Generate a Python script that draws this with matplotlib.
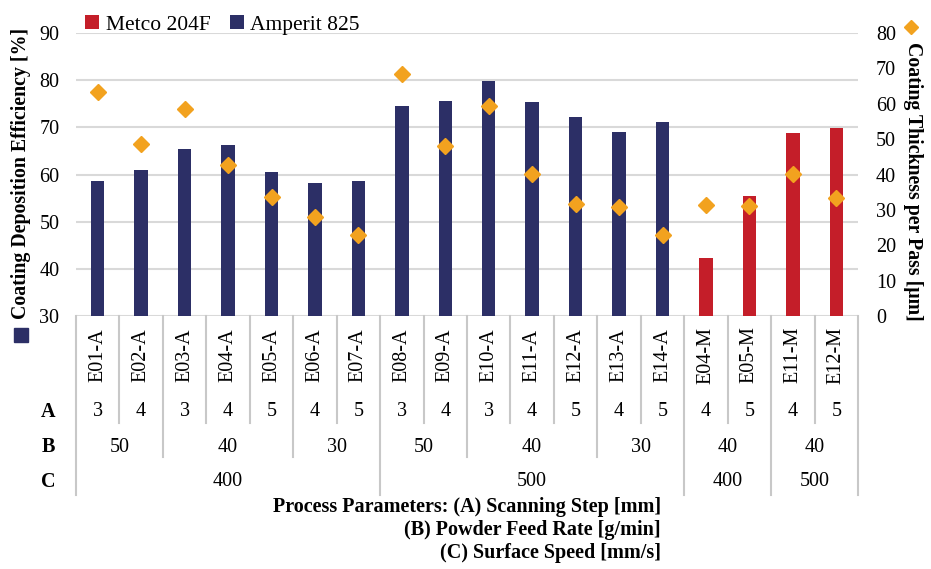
import numpy as np
import matplotlib.pyplot as plt
from matplotlib.lines import Line2D

plt.rcParams['font.family'] = ['Liberation Serif', 'DejaVu Serif']

# Data
samples = ['E01-A', 'E02-A', 'E03-A', 'E04-A', 'E05-A', 'E06-A', 'E07-A',
           'E08-A', 'E09-A', 'E10-A', 'E11-A', 'E12-A', 'E13-A', 'E14-A',
           'E04-M', 'E05-M', 'E11-M', 'E12-M']
powder = ['Amperit 825'] * 14 + ['Metco 204F'] * 4
efficiency = [58.6, 60.9, 65.5, 66.2, 60.5, 58.1, 58.6, 74.6, 75.5,
              79.8, 75.4, 72.2, 69.1, 71.1, 42.4, 55.4, 68.7, 69.8]
thickness = [63.2, 48.7, 58.5, 42.8, 33.5, 27.9, 22.9, 68.3, 48.0,
             59.5, 40.2, 31.7, 30.9, 22.9, 31.3, 31.2, 40.2, 33.3]
step_a = [3, 4, 3, 4, 5, 4, 5, 3, 4, 3, 4, 5, 4, 5, 4, 5, 4, 5]
feed_b = [50, 50, 40, 40, 40, 30, 30, 50, 50, 40, 40, 40, 30, 30, 40, 40, 40, 40]
speed_c = [400] * 7 + [500] * 7 + [400, 400, 500, 500]

navy = '#2c2f66'
red = '#c41e29'
orange = '#f2a21f'
grid_col = '#d9d9d9'
line_col = '#c8c8c8'

W, H = 931, 569
fig = plt.figure(figsize=(W / 100, H / 100), dpi=100)
ax = fig.add_axes([76 / W, 1 - 316 / H, 782 / W, 283 / H])

x = np.arange(len(samples))
eff = np.array(efficiency)
is_a = np.array([p == 'Amperit 825' for p in powder])

bar_a = ax.bar(x[is_a], eff[is_a] - 30, bottom=30, width=0.31, color=navy, label='Amperit 825')
bar_m = ax.bar(x[~is_a], eff[~is_a] - 30, bottom=30, width=0.31, color=red, label='Metco 204F')

ax.set_xlim(-0.5, len(samples) - 0.5)
ax.set_ylim(30, 90)
ax.set_yticks(np.arange(30, 91, 10))
ax.grid(axis='y', color=grid_col, lw=1.5)
ax.set_axisbelow(True)
ax.tick_params(axis='y', length=0, pad=12, labelsize=14.5)
ax.tick_params(axis='x', bottom=False, labelbottom=False)
for s in ax.spines.values():
    s.set_visible(False)

ax2 = ax.twinx()
ax2.plot(x, thickness, ls='none', marker='D', ms=8.5, color=orange)
ax2.set_ylim(0, 80)
ax2.set_yticks(np.arange(0, 81, 10))
ax2.tick_params(axis='y', length=0, pad=13, labelsize=14.5)
for s in ax2.spines.values():
    s.set_visible(False)

# table under the chart
def ay(py):
    return (316 - py) / 283

tr = ax.get_xaxis_transform()

c_run = []
b_run = []
for i in range(len(samples)):
    if i == 0:
        c_run.append(0)
        b_run.append(0)
        continue
    new_c = (powder[i], speed_c[i]) != (powder[i - 1], speed_c[i - 1])
    c_run.append(c_run[-1] + int(new_c))
    new_b = new_c or feed_b[i] != feed_b[i - 1]
    b_run.append(b_run[-1] + int(new_b))

bounds = [-0.5] + [i + 0.5 for i in range(len(samples) - 1)] + [len(samples) - 0.5]
for k, xb in enumerate(bounds):
    if k == 0 or k == len(bounds) - 1 or c_run[k] != c_run[k - 1]:
        bottom = 495
    elif b_run[k] != b_run[k - 1]:
        bottom = 457
    else:
        bottom = 423
    ax.plot([xb, xb], [ay(316), ay(bottom)], color=line_col, lw=1.5,
            transform=tr, clip_on=False)

for i, name in enumerate(samples):
    ax.text(i, ay(355), name, rotation=90, ha='center', va='center',
            fontsize=14.5, transform=tr)
    ax.text(i, ay(412), str(step_a[i]), ha='center', va='center',
            fontsize=14.5, transform=tr)

for run in sorted(set(b_run)):
    idx = [i for i in range(len(samples)) if b_run[i] == run]
    ax.text(np.mean(idx), ay(447), str(feed_b[idx[0]]), ha='center',
            va='center', fontsize=14.5, transform=tr)
for run in sorted(set(c_run)):
    idx = [i for i in range(len(samples)) if c_run[i] == run]
    ax.text(np.mean(idx), ay(482), str(speed_c[idx[0]]), ha='center',
            va='center', fontsize=14.5, transform=tr)

for lab, py in zip(['A', 'B', 'C'], [412, 447, 482]):
    fig.text(48 / W, 1 - py / H, lab, ha='center', va='center',
             fontsize=14.5, fontweight='bold')

params = ['Process Parameters: (A) Scanning Step [mm]',
          '(B) Powder Feed Rate [g/min]',
          '(C) Surface Speed [mm/s]']
for txt, py in zip(params, [507, 530, 553]):
    fig.text(661 / W, 1 - py / H, txt, ha='right', va='center',
             fontsize=14.5, fontweight='bold')

# axis titles with their series markers
fig.text(21 / W, 1 - 173 / H, 'Coating Deposition Efficiency [%]', rotation=90,
         ha='center', va='center', fontsize=14.3, fontweight='bold')
fig.add_artist(Line2D([20.5 / W], [1 - 335 / H], marker='s', ms=10.5,
                      color=navy, transform=fig.transFigure))
fig.text(913 / W, 1 - 181 / H, 'Coating Thickness per Pass [μm]', rotation=270,
         ha='center', va='center', fontsize=14.3, fontweight='bold')
fig.add_artist(Line2D([911 / W], [1 - 27 / H], marker='D', ms=7.5,
                      color=orange, transform=fig.transFigure))

fig.legend(handles=[bar_m, bar_a], labels=['Metco 204F', 'Amperit 825'],
           loc='upper left', bbox_to_anchor=(70 / W, 1 - 0 / H), ncol=2,
           frameon=False, fontsize=15.5, handlelength=0.65, handleheight=0.65,
           handletextpad=0.3, columnspacing=0.9, borderaxespad=0.3)

fig.savefig('out.png', dpi=100)
